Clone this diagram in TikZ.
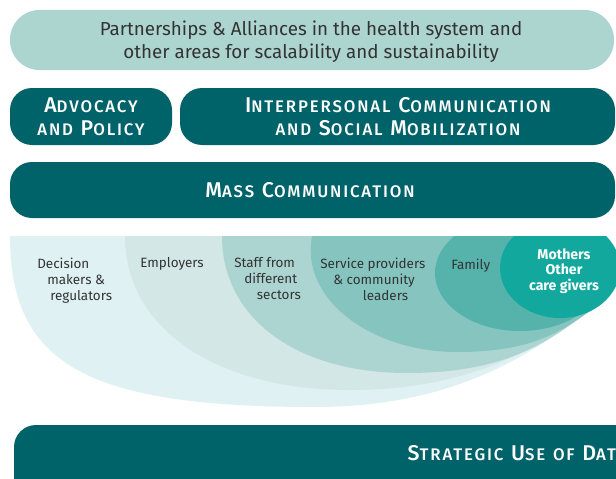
\documentclass[tikz,border=0pt]{standalone}
\usepackage{fontspec}
\setmainfont{Fira Sans}
\newfontfamily\headfont{Fira Sans}[UprightFont={* Medium},LetterSpace=11]
\definecolor{darkteal}{HTML}{00636A}
\definecolor{paleteal}{HTML}{ADD5D0}
\definecolor{ringA}{HTML}{E0F1F3}
\definecolor{ringB}{HTML}{D2E7E6}
\definecolor{ringC}{HTML}{ACD5D1}
\definecolor{ringD}{HTML}{86C5BF}
\definecolor{ringE}{HTML}{56B3AB}
\definecolor{ringF}{HTML}{13A89E}
\definecolor{inktext}{HTML}{333333}
\newcommand{\capword}[2]{{\fontsize{16}{17}\selectfont #1}{\fontsize{12.6}{17}\selectfont #2}}
\begin{document}
\begin{tikzpicture}[x=0.75pt,y=-0.75pt,
  bar/.style={fill=darkteal,rounded corners=16.5pt},
  bartext/.style={text=white,align=center,font=\headfont\fontsize{16}{17.25}\selectfont},
  ringtext/.style={text=inktext,align=left,inner sep=0pt,anchor=north west,font=\fontsize{10.1}{12}\selectfont}]
\clip (0,0) rectangle (616,478);
% bands
\fill[paleteal,rounded corners=22pt] (10,10) rectangle (614,70);
\fill[bar] (10,88) rectangle (172,145);
\fill[bar] (180,88) rectangle (615,145);
\fill[bar] (10,162) rectangle (615,218);
\fill[bar] (14,425) rectangle (700,520);
\node[text=inktext,align=center,font=\fontsize{14.1}{16.8}\selectfont] (partners) at (311,41.5)
  {Partnerships \& Alliances in the health system and\\other areas for scalability and sustainability};
\node[bartext] (advocacy) at (91,117) {\capword{A}{DVOCACY}\\\capword{}{AND} \capword{P}{OLICY}};
\node[bartext] (interpersonal) at (398,117) {\capword{I}{NTERPERSONAL} \capword{C}{OMMUNICATION}\\\capword{}{AND} \capword{S}{OCIAL} \capword{M}{OBILIZATION}};
\node[bartext] (mass) at (310,190) {\capword{M}{ASS} \capword{C}{OMMUNICATION}};
\node[bartext,anchor=west] (strategic) at (403,453) {\capword{S}{TRATEGIC} \capword{U}{SE} \capword{}{OF} \capword{D}{ATA}};
% rings
\begin{scope}
\clip (0,236) rectangle (616,478);
\fill[ringA] (10,236) .. controls (10,364) and (86,407) .. (315,407) .. controls (465,407) and (540,346) .. (597,306) -- (560,236) -- cycle;
\fill[ringB] (125,236) .. controls (125,328) and (215,390) .. (350,390) .. controls (480,390) and (548,340) .. (597,306) -- (560,236) -- cycle;
\fill[ringC] (222,236) .. controls (222,318) and (296,373) .. (407,373) .. controls (517,373) and (556,334) .. (597,306) -- (560,236) -- cycle;
\fill[ringD] (312,236) .. controls (300,300) and (372,352) .. (457,352) .. controls (537,352) and (564,329) .. (597,306) -- (560,236) -- cycle;
\fill[ringE] (520,273) ellipse [x radius=85,y radius=58];
\fill[ringF] (560,268) ellipse [x radius=60,y radius=50];
\end{scope}
\node[ringtext] (decision) at (37,257.5) {Decision\\\hspace*{7.5pt}makers \&\\\hspace*{9.75pt}regulators};
\node[ringtext] (employers) at (140,257) {Employers};
\node[ringtext] (staff) at (234,257.5) {Staff from\\\hspace*{7.5pt}different\\\hspace*{17pt}sectors};
\node[ringtext] (service) at (320,257.5) {Service providers\\\hspace*{9.75pt}\& community\\\hspace*{32pt}leaders};
\node[ringtext] (family) at (451,259) {Family};
\node[text=white,align=center,font=\bfseries\fontsize{10.6}{11.5}\selectfont] (mothers) at (564,271) {Mothers\\Other\\care givers};
\end{tikzpicture}
\end{document}
